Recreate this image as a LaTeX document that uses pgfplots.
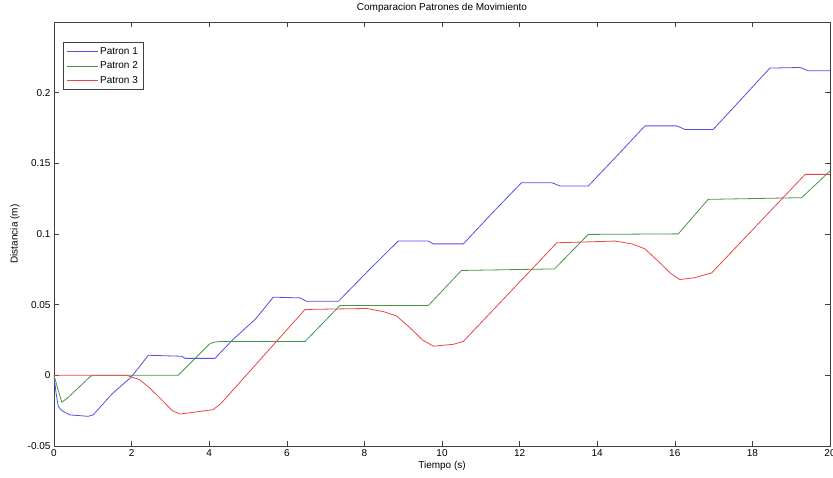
\documentclass[border=0pt]{standalone}
\usepackage{pgfplots}
\pgfplotsset{compat=1.18}
\usepackage{fontspec}
\setmainfont{Liberation Sans}
\definecolor{cblue}{RGB}{80,80,235}
\definecolor{cgreen}{RGB}{70,150,70}
\definecolor{cred}{RGB}{235,70,70}
\begin{document}
\begin{tikzpicture}
\useasboundingbox (-54pt,-31pt) rectangle (779pt,446pt);
\begin{axis}[
  scale only axis,
  width=776pt, height=424pt,
  xmin=0, xmax=20, ymin=-0.05, ymax=0.25,
  xtick={0,2,...,20},
  ytick={-0.05,0,0.05,0.1,0.15,0.2},
  yticklabels={-0.05,0,0.05,0.1,0.15,0.2},
  scaled y ticks=false,
  tick align=inside,
  major tick length=5pt,
  axis line style={black!75, line width=0.6pt},
  every tick/.style={black!75, line width=0.6pt},
  tick label style={font=\fontsize{10}{11}\selectfont},
  /pgf/number format/assume math mode=true,
  title={Comparacion Patrones de Movimiento},
  title style={font=\fontsize{10}{11}\selectfont, at={(axis description cs:0.5,1)}, anchor=south, yshift=0pt},
  xlabel={Tiempo (s)},
  ylabel={Distancia (m)},
  x label style={font=\fontsize{10}{11}\selectfont, at={(axis description cs:0.5,-0.047)}, anchor=center},
  y label style={font=\fontsize{10}{11}\selectfont, at={(axis description cs:-0.0503,0.5)}, anchor=center},
  legend style={at={(axis description cs:0,1)}, anchor=north west, xshift=9pt, yshift=-20pt,
    font=\fontsize{10}{11}\selectfont, draw=black!75, line width=0.6pt, inner xsep=3pt, inner ysep=2pt,
    nodes={inner ysep=3pt}},
  legend cell align=left,
  legend image code/.code={\draw[#1] plot coordinates {(0pt,0pt) (31pt,0pt)};},
  every axis plot/.append style={line width=0.8pt},
]
\addplot[cblue] coordinates {
(0,0) (0.05,-0.012) (0.11,-0.022) (0.2,-0.025) (0.41,-0.028) (0.88,-0.029) (1.01,-0.028)
(1.5,-0.013) (1.96,-0.002) (2.2,0.006) (2.43,0.0142) (3.29,0.0135) (3.38,0.012) (4.15,0.012)
(4.6,0.025) (5.2,0.04) (5.65,0.0553) (6.34,0.0548) (6.51,0.0524) (7.33,0.0524) (8.1,0.074)
(8.87,0.095) (9.65,0.095) (9.78,0.093) (10.55,0.093) (11.3,0.115) (12.05,0.1363) (12.83,0.1363)
(13.04,0.134) (13.77,0.134) (14.5,0.155) (15.23,0.1765) (16.05,0.1765) (16.26,0.174) (16.99,0.174)
(17.7,0.195) (18.45,0.2174) (19.23,0.2178) (19.44,0.2155) (20,0.2155)
};
\addlegendentry{Patron 1}
\addplot[cgreen] coordinates {
(0,0) (0.2,-0.019) (0.35,-0.016) (0.93,-0.001) (1.0,0) (3.2,0) (4.0,0.022) (4.1,0.0234) (4.3,0.024)
(6.47,0.024) (7.37,0.0494) (9.65,0.0494) (10.5,0.0742) (12.9,0.0753) (13.77,0.0997) (16.09,0.1001)
(16.86,0.1245) (19.27,0.1257) (20,0.1446)
};
\addlegendentry{Patron 2}
\addplot[cred] coordinates {
(0,0) (1.87,0) (2.2,-0.003) (2.47,-0.009) (2.8,-0.018) (3.05,-0.025) (3.25,-0.0274) (4.1,-0.0243)
(4.3,-0.02) (6.47,0.0466) (8.06,0.0473) (8.5,0.045) (8.83,0.042) (9.2,0.033) (9.5,0.025) (9.78,0.0206)
(10.3,0.022) (10.55,0.024) (12.96,0.0938) (14.46,0.095) (14.9,0.093) (15.23,0.0895) (15.6,0.08)
(15.9,0.072) (16.13,0.0678) (16.5,0.069) (16.95,0.0725) (19.36,0.1422) (20,0.1422)
};
\addlegendentry{Patron 3}
\end{axis}
\end{tikzpicture}
\end{document}
